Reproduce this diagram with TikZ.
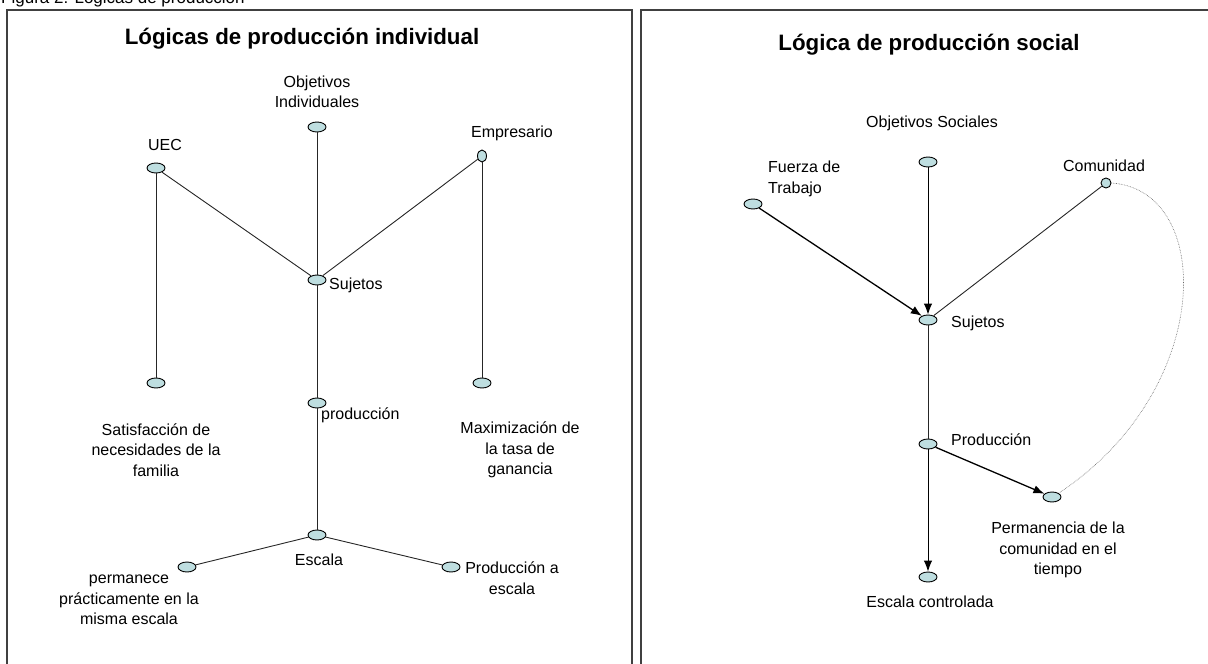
\documentclass[tikz,border=0pt]{standalone}
\usepackage{fontspec}
\setmainfont{Liberation Sans}
\usetikzlibrary{shapes.geometric,arrows.meta}
\definecolor{nodefill}{RGB}{190,222,224}
\tikzset{
  blob/.style={ellipse,draw=black,fill=nodefill,line width=0.9pt,inner sep=0pt,minimum width=18pt,minimum height=10pt},
  tallblob/.style={blob,minimum width=9pt,minimum height=12pt},
  txt/.style={font=\fontsize{16}{20.5}\selectfont,align=center,inner sep=0pt},
  title/.style={font=\bfseries\fontsize{22.3}{25}\selectfont,inner sep=0pt},
  link/.style={line width=0.9pt,draw=black!85},
  arr/.style={line width=1.3pt,-{Latex[length=11pt,width=8.5pt]}}
}
\begin{document}
\begin{tikzpicture}[x=1pt,y=-1pt]
\useasboundingbox (0,0) rectangle (1208,664);
\node[font=\fontsize{17}{20}\selectfont,anchor=base west,inner sep=0pt] (fig) at (1,3) {Figura 2: Lógicas de producción};
% frames
\draw[line width=2pt,draw=black!75] (7,672) -- (7,10) -- (632,10) -- (632,672);
\draw[line width=2pt,draw=black!75] (641,672) -- (641,10) -- (1216,10);

% left panel
\node[title] (titleA) at (302,39) {Lógicas de producción individual};
\node[txt] (objindT) at (317,92) {Objetivos\\Individuales};
\node[blob] (objind) at (317,127) {};
\node[blob] (uec) at (156,168) {};
\node[txt] (uecT) at (165,145) {UEC};
\node[tallblob] (emp) at (482,156) {};
\node[txt] (empT) at (512,133) {Empresario};
\node[blob] (suj) at (317,280) {};
\node[txt,anchor=west] (sujT) at (329,285) {Sujetos};
\node[blob] (sat) at (156,383) {};
\node[txt] (satT) at (156,450) {Satisfacción de\\necesidades de la\\familia};
\node[blob] (max) at (482,383) {};
\node[txt] (maxT) at (520,450) {Maximización de\\la tasa de\\ganancia};
\node[blob] (prod) at (317,403) {};
\node[txt,anchor=west] (prodT) at (321,415) {producción};
\node[blob] (esc) at (317,535) {};
\node[txt] (escT) at (319,560) {Escala};
\node[blob] (perm) at (187,567) {};
\node[txt] (permT) at (129,600) {permanece\\prácticamente en la\\misma escala};
\node[blob] (pesc) at (451,567) {};
\node[txt] (pescT) at (512,578) {Producción a\\escala};

\draw[link] (uec) -- (sat);
\draw[link] (uec) -- (suj);
\draw[link] (objind) -- (suj);
\draw[link] (emp) -- (suj);
\draw[link] (emp) -- (max);
\draw[link] (suj) -- (prod);
\draw[link] (prod) -- (esc);
\draw[link] (esc) -- (perm);
\draw[link] (esc) -- (pesc);

% right panel
\node[title] (titleB) at (929,45) {Lógica de producción social};
\node[txt] (objsocT) at (932,123) {Objetivos Sociales};
\node[blob] (objsoc) at (928,162) {};
\node[blob] (fza) at (753,204) {};
\node[txt,align=left,anchor=north west] (fzaT) at (768,161) {Fuerza de\\Trabajo};
\node[tallblob,minimum width=10pt,minimum height=10pt] (com) at (1106,183) {};
\node[txt] (comT) at (1104,166) {Comunidad};
\node[blob] (sujB) at (928,320) {};
\node[txt,anchor=west] (sujBT) at (951,323) {Sujetos};
\node[blob] (prodB) at (928,444) {};
\node[txt,anchor=west] (prodBT) at (951,440) {Producción};
\node[blob] (permB) at (1052,497) {};
\node[txt] (permBT) at (1058,550) {Permanencia de la\\comunidad en el\\tiempo};
\node[blob] (escB) at (928,577) {};
\node[txt] (escBT) at (930,602) {Escala controlada};

\draw[arr] (fza) -- (sujB);
\draw[arr,line width=1pt] (objsoc) -- (sujB);
\draw[link] (com) -- (sujB);
\draw[link] (sujB) -- (prodB);
\draw[arr,line width=1pt] (prodB) -- (escB);
\draw[arr] (prodB) -- (permB);
\draw[densely dotted,draw=black!60,line width=0.6pt] (com.east) .. controls (1215,190) and (1215,390) .. (permB.north east);
\end{tikzpicture}
\end{document}
